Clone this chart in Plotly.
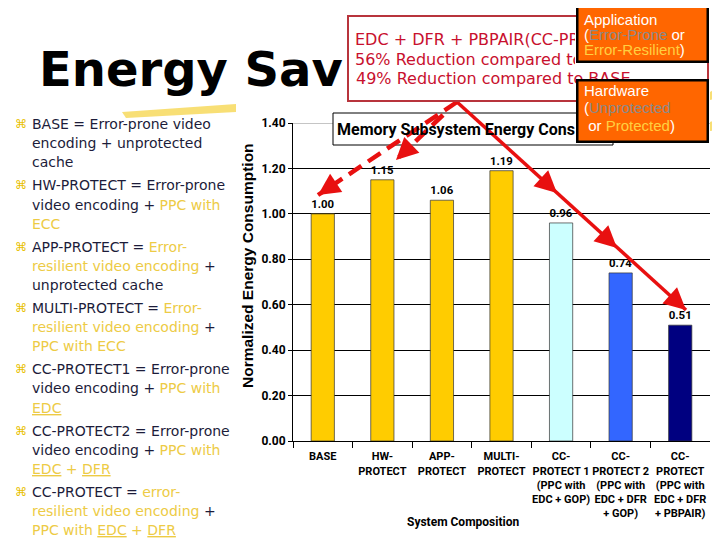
import math
import plotly.graph_objects as go

# ---------------- data ----------------
categories = ["BASE", "HW-PROTECT", "APP-PROTECT", "MULTI-PROTECT",
              "CC-PROTECT 1", "CC-PROTECT 2", "CC-PROTECT"]
tick_labels = ["BASE", "HW-<br>PROTECT", "APP-<br>PROTECT", "MULTI-<br>PROTECT",
               "CC-<br>PROTECT 1<br>(PPC with<br>EDC + GOP)",
               "CC-<br>PROTECT 2<br>(PPC with<br>EDC + DFR<br>+ GOP)",
               "CC-<br>PROTECT<br>(PPC with<br>EDC + DFR<br>+ PBPAIR)"]
values = [1.00, 1.15, 1.06, 1.19, 0.96, 0.74, 0.51]
bar_colors = ["#FFCC00", "#FFCC00", "#FFCC00", "#FFCC00", "#CCFFFF", "#3366FF", "#000080"]
y_ticks = [0.0, 0.2, 0.4, 0.6, 0.8, 1.0, 1.2, 1.4]

chart_title = "Memory Subsystem Energy Consumption"
y_title = "Normalized Energy Consumption"
x_title = "System Composition"
slide_title = "Energy Saving"

DARK = "#1C1C3A"
YEL = "#EDCB45"
def y_(s):
    return f"<span style='color:{YEL}'>{s}</span>"

bullets = [
    ["BASE = Error-prone video", "encoding + unprotected", "cache"],
    ["HW-PROTECT = Error-prone", "video encoding + " + y_("PPC with"), y_("ECC")],
    ["APP-PROTECT = " + y_("Error-"), y_("resilient video encoding") + " +", "unprotected cache"],
    ["MULTI-PROTECT = " + y_("Error-"), y_("resilient video encoding") + " +", y_("PPC with ECC")],
    ["CC-PROTECT1 = Error-prone", "video encoding + " + y_("PPC with"), y_("<u>EDC</u>")],
    ["CC-PROTECT2 = Error-prone", "video encoding + " + y_("PPC with"), y_("<u>EDC</u> + <u>DFR</u>")],
    ["CC-PROTECT = " + y_("error-"), y_("resilient video encoding") + " +",
     y_("PPC with <u>EDC</u> + <u>DFR</u>")],
]

red_lines = ["EDC + DFR + PBPAIR(CC-PROTECT)",
             "56% Reduction compared to HW-PROTECT",
             "49% Reduction compared to BASE"]

GREY = "#8A8A8A"
OYEL = "#FFD040"
app_lines = ["Application",
             f"(<span style='color:{GREY}'>Error-Prone</span> or",
             f"<span style='color:{OYEL}'>Error-Resilient</span>)"]
hw_lines = ["Hardware",
            f"(<span style='color:{GREY}'>Unprotected</span>",
            f" or <span style='color:{OYEL}'>Protected</span>)"]

# ---------------- helpers ----------------
W, H = 720, 540
OFF = 8  # page body margin offset
def X(p): return (p - OFF) / W
def Y(p): return 1 - (p - OFF) / H

ARIAL = "Liberation Sans, Arial, sans-serif"
ROBO = "Roboto, Liberation Sans, sans-serif"
VERD = "DejaVu Sans, Verdana, sans-serif"
RED = "#E81010"

fig = go.Figure()
fig.add_trace(go.Bar(
    x=categories, y=values,
    marker=dict(color=bar_colors, line=dict(color="#333333", width=0.7)),
    text=[f"{v:.2f}" for v in values], textposition="outside",
    textfont=dict(family=ROBO, size=11.5, color="black", weight="bold"),
    cliponaxis=False, hoverinfo="skip",
))

ann = []

# left bullet list
for i, lines in enumerate(bullets):
    y0 = 124 + 61.3 * i
    ann.append(dict(x=X(13), y=Y(y0), xref="paper", yref="paper", xanchor="left",
                    yanchor="middle", text="⌘", showarrow=False,
                    font=dict(family=VERD, size=12, color="#E8C000")))
    for j, t in enumerate(lines):
        ann.append(dict(x=X(31), y=Y(y0 + 19.2 * j), xref="paper", yref="paper",
                        xanchor="left", yanchor="middle", text=t, showarrow=False,
                        width=204, align="left", borderpad=0,
                        font=dict(family=VERD, size=14, color=DARK)))

# slide title (clipped where the red box starts)
ann.append(dict(x=X(38), y=Y(69), xref="paper", yref="paper", xanchor="left",
                yanchor="middle", text=f"<b>{slide_title}</b>", showarrow=False,
                width=305, align="left", borderpad=0,
                font=dict(family="DejaVu Sans, sans-serif", size=48, color="black")))

# axis titles
ann.append(dict(x=X(247), y=Y(266), xref="paper", yref="paper", xanchor="center",
                yanchor="middle", text=f"<b>{y_title}</b>", textangle=-90, showarrow=False,
                font=dict(family=ARIAL, size=15.5, color="black")))
ann.append(dict(x=X(463), y=Y(522), xref="paper", yref="paper", xanchor="center",
                yanchor="middle", text=f"<b>{x_title}</b>", showarrow=False,
                font=dict(family=ROBO, size=12, color="black")))

# chart title text (frame is a shape)
ann.append(dict(x=X(336), y=Y(129), xref="paper", yref="paper", xanchor="left",
                yanchor="middle", text=f"<b>{chart_title}</b>", showarrow=False,
                width=238, align="left", borderpad=0,
                font=dict(family=ROBO, size=16, color="black")))

# red box
ann.append(dict(x=X(347), y=Y(15), xref="paper", yref="paper", xanchor="left",
                yanchor="top", text=" ", showarrow=False, width=358, height=83,
                borderpad=0, bgcolor="white", bordercolor="#B8343C", borderwidth=2))
for j, t in enumerate(red_lines):
    extra = dict(width=220, align="left", borderpad=0) if j < 2 else {}
    ann.append(dict(x=X(354), y=Y(40 + 19 * j), xref="paper", yref="paper",
                    xanchor="left", yanchor="middle", text=t, showarrow=False,
                    font=dict(family=VERD, size=16, color="#C8102E"), **extra))

# orange boxes
for (top, bot, base, step, lines) in [(0, 62, 19, 15, app_lines), (79, 142, 90, 17.5, hw_lines)]:
    ann.append(dict(x=X(576), y=Y(top), xref="paper", yref="paper", xanchor="left",
                    yanchor="top", text=" ", showarrow=False, width=128,
                    height=bot - top - 4, borderpad=0, bgcolor="#FF6600",
                    bordercolor="black", borderwidth=2.5))
    for j, t in enumerate(lines):
        ann.append(dict(x=X(582), y=Y(base + step * j), xref="paper", yref="paper",
                        xanchor="left", yanchor="middle", text=t, showarrow=False,
                        font=dict(family=ARIAL, size=15, color="white")))

# arrow lines as shapes, arrowheads as annotations
line_shapes = []
def arrowhead(x0, y0, x1, y1, w=3.5):
    L = math.hypot(x1 - x0, y1 - y0)
    ux, uy = (x1 - x0) / L, (y1 - y0) / L
    ann.append(dict(x=X(x1), y=Y(y1), xref="paper", yref="paper", text="",
                    showarrow=True, arrowhead=2, arrowsize=1.25, arrowwidth=w,
                    arrowcolor=RED, ax=-ux * 14, ay=-uy * 14))

def seg(x0, y0, x1, y1, dash="solid", w=3.5):
    line_shapes.append(dict(type="line", xref="paper", yref="paper", layer="above",
                            x0=X(x0), y0=Y(y0), x1=X(x1), y1=Y(y1),
                            line=dict(color=RED, width=w, dash=dash)))

# dashed arrows to BASE and HW-PROTECT labels
for (a, b) in [((457, 102), (318, 195)), ((443, 115), (396, 160))]:
    seg(*a, *b, dash="15px,8px", w=4.5)
    arrowhead(*a, *b)

# solid arrow with three heads
pts = [(457, 102), (557, 193), (617, 248), (686, 310)]
seg(*pts[0], *pts[-1], w=3.5)
for (a, b) in zip(pts[:-1], pts[1:]):
    arrowhead(*a, *b)

shapes = [
    dict(type="path", xref="paper", yref="paper", layer="below",
         path=f"M {X(122)},{Y(112)} L {X(236)},{Y(104)} L {X(236)},{Y(112)} L {X(126)},{Y(118)} Z",
         fillcolor="#F5D23A", line=dict(width=0), opacity=0.7),
    dict(type="path", xref="paper", yref="paper", layer="below",
         path=f"M {X(710)},{Y(92)} L {X(720)},{Y(86)} L {X(720)},{Y(98)} L {X(710)},{Y(100)} Z",
         fillcolor="#F5D23A", line=dict(width=0), opacity=0.7),
    dict(type="path", xref="paper", yref="paper", layer="below",
         path=f"M {X(710)},{Y(122)} L {X(720)},{Y(118)} L {X(720)},{Y(130)} L {X(710)},{Y(131)} Z",
         fillcolor="#F5D23A", line=dict(width=0), opacity=0.7),
    # grey top border of plot area (1.40 line)
    dict(type="line", xref="paper", yref="y", layer="above",
         x0=X(293), x1=X(710), y0=1.4, y1=1.4, line=dict(color="#8C8C8C", width=1)),
    # chart title frame
    dict(type="rect", xref="paper", yref="paper", layer="above",
         x0=X(333), x1=X(613), y0=Y(145), y1=Y(113),
         fillcolor="white", line=dict(color="black", width=1)),
] + line_shapes

fig.update_layout(
    width=W, height=H, autosize=False,
    margin=dict(l=0, r=0, t=0, b=0, pad=0),
    paper_bgcolor="white", plot_bgcolor="white",
    showlegend=False, bargap=0.61,
    annotations=ann, shapes=shapes,
    xaxis=dict(domain=[X(293), X(710)], type="category", automargin=False,
               tickvals=categories, ticktext=tick_labels, tickangle=0,
               ticks="outside", tickson="boundaries", ticklen=6, tickcolor="black",
               ticklabelstandoff=5,
               showline=True, linecolor="black", linewidth=1, showgrid=False,
               tickfont=dict(family=ROBO, size=11, color="black", weight="bold")),
    yaxis=dict(domain=[Y(441), Y(123)], range=[0, 1.4], tickvals=y_ticks,
               automargin=False,
               tickformat=".2f", ticks="outside", ticklen=4, tickcolor="black",
               showline=True, linecolor="black", linewidth=1,
               showgrid=True, gridcolor="black", gridwidth=1, zeroline=False,
               tickfont=dict(family=ROBO, size=12, color="black", weight="bold")),
)

fig.write_html("out.html")
